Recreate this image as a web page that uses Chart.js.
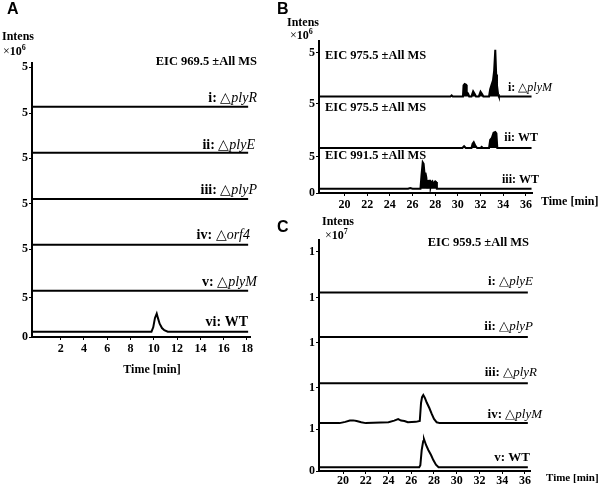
<!DOCTYPE html>
<html>
<head>
<meta charset="utf-8">
<script src="https://cdn.jsdelivr.net/npm/chart.js@4.4.1/dist/chart.umd.min.js"></script>
<style>
  html, body { margin: 0; padding: 0; background: #fff; }
  #wrap { position: relative; width: 600px; height: 486px; overflow: hidden; }
  canvas { position: absolute; }
</style>
</head>
<body>
<div id="wrap">
  <canvas id="panelA" width="270" height="400" style="left:0px;top:0px"></canvas>
  <canvas id="panelB" width="330" height="215" style="left:270px;top:0px"></canvas>
  <canvas id="panelC" width="330" height="271" style="left:270px;top:215px"></canvas>
</div>
<script>
// ---------- data ----------
// A: EIC 969.5, intensity x10^6, time in min
const aTimeTicks = [2, 4, 6, 8, 10, 12, 14, 16, 18];
const aYLabels = ['5', '5', '5', '5', '5', '5', '0'];
const aTitle = 'EIC 969.5 ±All MS';
const aTraceNames = [['i: ', 'plyR'], ['ii: ', 'plyE'], ['iii: ', 'plyP'], ['iv: ', 'orf4'], ['v: ', 'plyM'], ['vi: WT', '']];
const aFlatTime = [-0.46, 18.1];
const aFlatInt = [0, 0];
const aWtTime = [-0.46, 9.8, 9.95, 10.1, 10.25, 10.35, 10.5, 10.7, 10.9, 11.2, 18.1];
const aWtInt = [0, 0, 0.6, 1.9, 2.5, 1.9, 1.1, 0.5, 0.2, 0, 0];

// B: intensity x10^6, time in min
const bTimeTicks = [20, 22, 24, 26, 28, 30, 32, 34, 36];
const bYLabels = ['5', '5', '5', '0'];
const bTitles = ['EIC 975.5 ±All MS', 'EIC 975.5 ±All MS', 'EIC 991.5 ±All MS'];
const bTraceNames = [['i: ', 'plyM'], ['ii: WT', ''], ['iii: WT', '']];
const bMutTime = [17.75, 29.35, 29.45, 29.55, 30.45, 30.5, 30.6, 30.72, 30.78, 30.9, 31.0, 31.2, 31.35, 31.5, 31.6, 31.85, 32.0, 32.15, 32.25, 32.75, 32.85, 32.95, 33.1, 33.2, 33.3, 33.38, 33.45, 33.55, 33.62, 36.5];
const bMutInt = [0, 0, 0.15, 0, 0, 1.5, 1.7, 1.6, 0.6, 0.4, 0, 0, 0.7, 0.3, 0, 0, 0.65, 0.3, 0, 0, 1.0, 1.5, 2.2, 3.5, 6.4, 3.0, 1.5, 0.3, 0, 0];
const bWt975Time = [17.75, 30.4, 30.55, 30.7, 31.2, 31.3, 31.4, 31.55, 31.7, 32.0, 32.1, 32.2, 32.75, 32.85, 33.0, 33.15, 33.3, 33.4, 33.48, 36.5];
const bWt975Int = [0, 0, 0.25, 0, 0, 0.6, 0.8, 0.3, 0, 0, 0.15, 0, 0, 1.1, 1.4, 2.1, 2.2, 2.0, 0, 0];
const bWt991Time = [17.75, 25.6, 25.8, 26.0, 26.7, 26.8, 26.9, 26.98, 27.05, 27.15, 27.22, 27.3, 27.35, 27.45, 27.55, 27.6, 27.68, 27.75, 27.82, 27.9, 28.0, 28.08, 28.15, 36.5];
const bWt991Int = [0, 0, 0.1, 0, 0, 2.0, 3.6, 3.4, 2.2, 2.1, 1.5, 0.2, 1.0, 1.1, 1.1, 0.3, 0.9, 1.0, 0.5, 0.8, 1.0, 0.9, 0, 0];

// C: EIC 959.5, intensity x10^7, time in min
const cTimeTicks = [20, 22, 24, 26, 28, 30, 32, 34, 36];
const cYLabels = ['1', '1', '1', '1', '1', '0'];
const cTitle = 'EIC 959.5 ±All MS';
const cTraceNames = [['i: ', 'plyE'], ['ii: ', 'plyP'], ['iii: ', 'plyR'], ['iv: ', 'plyM'], ['v: WT', '']];
const cFlatTime = [17.89, 36.25];
const cFlatInt = [0, 0];
const cMutTime = [17.89, 19.7, 20.2, 20.6, 20.9, 21.2, 21.6, 22.0, 24.0, 24.5, 24.85, 25.1, 25.4, 25.7, 26.4, 26.75, 26.86, 26.95, 27.06, 27.2, 27.36, 27.59, 27.8, 28.0, 28.24, 28.5, 36.25];
const cMutInt = [0, 0, 0.03, 0.06, 0.065, 0.05, 0.02, 0, 0.02, 0.06, 0.095, 0.06, 0.05, 0.02, 0.03, 0.05, 0.48, 0.62, 0.67, 0.6, 0.49, 0.36, 0.22, 0.1, 0.02, 0, 0];
const cWtTime = [17.89, 26.7, 26.8, 26.92, 27.05, 27.12, 27.3, 27.5, 27.74, 27.94, 28.17, 28.4, 36.25];
const cWtInt = [0, 0, 0.05, 0.41, 0.62, 0.67, 0.53, 0.41, 0.29, 0.17, 0.06, 0, 0];

// ---------- layout (stack offsets in axis units) ----------
const aLanes = [31.72, 25.38, 19.01, 12.71, 6.38, 0.73];
const aYTicks = [37.18, 30.85, 24.61, 18.32, 12.12, 5.4, 0];
const bLanes = [13.23, 6.16, 0.59];
const bYTicks = [19.18, 12.23, 5.01, 0];
const cLanes = [4.25, 3.19, 2.09, 1.14, 0.09];
const cYTicks = [5.22, 4.12, 3.05, 1.98, 1.0, 0];

const SERIF = '"Liberation Serif", "Times New Roman", serif';
const SANS = '"Liberation Sans", Arial, sans-serif';
const B12 = 'bold 12px ' + SERIF;
const EIC = 'bold 12.5px ' + SERIF;
const LETTER = 'bold 16px ' + SANS;

function traceLabel(name, size) {
  const parts = [[name[0], 'bold ' + size + 'px ' + SERIF]];
  if (name[1]) {
    parts.push(['△', size + 'px ' + SERIF]);
    parts.push([name[1], 'italic ' + size + 'px ' + SERIF]);
  }
  return parts;
}
function power(exp) {
  return [['×', '12px ' + SERIF], ['10', B12], [exp, 'bold 8px ' + SERIF, -4]];
}

function series(time, vals, base, filled) {
  return {
    data: time.map((t, i) => ({ x: t, y: base + vals[i] })),
    borderColor: '#000',
    borderWidth: 2,
    pointRadius: 0,
    fill: filled ? { value: base } : false,
    backgroundColor: '#000'
  };
}

function textLayer(items) {
  return {
    id: 'textLayer',
    afterDraw(chart) {
      const ctx = chart.ctx;
      ctx.save();
      ctx.fillStyle = '#000';
      ctx.textBaseline = 'middle';
      items.forEach(it => {
        let w = 0;
        it.parts.forEach(p => { ctx.font = p[1]; w += ctx.measureText(p[0]).width; });
        let x = it.align === 'right' ? it.x - w : it.align === 'center' ? it.x - w / 2 : it.x;
        it.parts.forEach(p => {
          ctx.font = p[1];
          ctx.fillText(p[0], x, it.y + (p[2] || 0));
          x += ctx.measureText(p[0]).width;
        });
      });
      ctx.restore();
    }
  };
}

function panel(id, o) {
  const axisBase = {
    type: 'linear',
    border: { display: true, color: '#000', width: 2 },
    grid: { display: true, drawOnChartArea: false, drawTicks: true, tickLength: 3, color: '#000', lineWidth: 1 }
  };
  return new Chart(document.getElementById(id), {
    type: 'line',
    data: { datasets: o.datasets },
    options: {
      responsive: false,
      animation: false,
      layout: { autoPadding: false, padding: o.padding },
      plugins: { legend: { display: false }, tooltip: { enabled: false } },
      scales: {
        x: Object.assign({}, axisBase, {
          min: o.xMin, max: o.xMax,
          afterBuildTicks: s => { s.ticks = o.xTicks.map(v => ({ value: v })); },
          afterFit: s => { s.height = o.xHeight; },
          ticks: { color: '#000', font: { family: SERIF, size: 12, weight: 'bold' }, padding: o.xPad, maxRotation: 0, autoSkip: false }
        }),
        y: Object.assign({}, axisBase, {
          min: 0, max: o.yMax,
          afterBuildTicks: s => { s.ticks = o.yTicks.map(v => ({ value: v })); },
          afterFit: s => { s.width = o.yWidth; },
          ticks: { color: '#000', font: { family: SERIF, size: 12, weight: 'bold' }, padding: 1, autoSkip: false,
                   callback: (v, i) => o.yLabels[i] }
        })
      }
    },
    plugins: [textLayer(o.texts)]
  });
}

// ---------- panel A ----------
const aSets = aLanes.slice(0, 5).map(b => series(aFlatTime, aFlatInt, b, false));
aSets.push(series(aWtTime, aWtInt, aLanes[5], false));
const aLabelPos = [[257, 98], [255, 145], [257, 190], [250, 235], [257, 282], [248, 322]];
const aTexts = [
  { parts: [['A', LETTER]], x: 7, y: 10 },
  { parts: [['Intens', B12]], x: 2, y: 37 },
  { parts: power('6'), x: 3, y: 52 },
  { parts: [[aTitle, EIC]], x: 257, y: 62, align: 'right' },
  { parts: [['Time [min]', B12]], x: 152, y: 370, align: 'center' }
].concat(aTraceNames.map((n, i) => ({ parts: traceLabel(n, 14), x: aLabelPos[i][0], y: aLabelPos[i][1], align: 'right' })));

panel('panelA', {
  datasets: aSets,
  padding: { left: 0, top: 63, right: 20, bottom: 0 },
  xMin: -0.46, xMax: 18.26, xTicks: aTimeTicks, xHeight: 63, xPad: 2,
  yMax: 37.74, yTicks: aYTicks, yLabels: aYLabels, yWidth: 32,
  texts: aTexts
});

// ---------- panel B ----------
const bSets = [
  series(bMutTime, bMutInt, bLanes[0], true),
  series(bWt975Time, bWt975Int, bLanes[1], true),
  series(bWt991Time, bWt991Int, bLanes[2], true)
];
const bLabelPos = [[282, 88], [268, 138], [269, 180]];
const bTitleY = [56, 108, 156];
const bTexts = [
  { parts: [['B', LETTER]], x: 7, y: 10 },
  { parts: [['Intens', B12]], x: 17, y: 23 },
  { parts: power('6'), x: 20, y: 36 },
  { parts: [['Time [min]', B12]], x: 271, y: 202 }
].concat(bTitles.map((t, i) => ({ parts: [[t, EIC]], x: 55, y: bTitleY[i] })))
 .concat(bTraceNames.map((n, i) => ({ parts: traceLabel(n, 12), x: bLabelPos[i][0], y: bLabelPos[i][1], align: 'right' })));

panel('panelB', {
  datasets: bSets,
  padding: { left: 0, top: 41, right: 68, bottom: 0 },
  xMin: 17.75, xMax: 36.54, xTicks: bTimeTicks, xHeight: 22, xPad: 2,
  yMax: 20.82, yTicks: bYTicks, yLabels: bYLabels, yWidth: 49,
  texts: bTexts
});

// ---------- panel C ----------
const cSets = cLanes.slice(0, 3).map(b => series(cFlatTime, cFlatInt, b, false));
cSets.push(series(cMutTime, cMutInt, cLanes[3], false));
cSets.push(series(cWtTime, cWtInt, cLanes[4], false));
const cLabelPos = [[263, 67], [263, 112], [267, 158], [272, 200], [260, 243]];
const cTexts = [
  { parts: [['C', LETTER]], x: 7, y: 13 },
  { parts: [['Intens', B12]], x: 68, y: 7, align: 'center' },
  { parts: power('7'), x: 55, y: 21 },
  { parts: [[cTitle, EIC]], x: 259, y: 28, align: 'right' },
  { parts: [['Time [min]', 'bold 11px ' + SERIF]], x: 276, y: 263 }
].concat(cTraceNames.map((n, i) => ({ parts: traceLabel(n, 13), x: cLabelPos[i][0], y: cLabelPos[i][1], align: 'right' })));

panel('panelC', {
  datasets: cSets,
  padding: { left: 0, top: 25, right: 70, bottom: 0 },
  xMin: 17.89, xMax: 36.44, xTicks: cTimeTicks, xHeight: 15, xPad: 0,
  yMax: 5.5, yTicks: cYTicks, yLabels: cYLabels, yWidth: 49,
  texts: cTexts
});
</script>
</body>
</html>
